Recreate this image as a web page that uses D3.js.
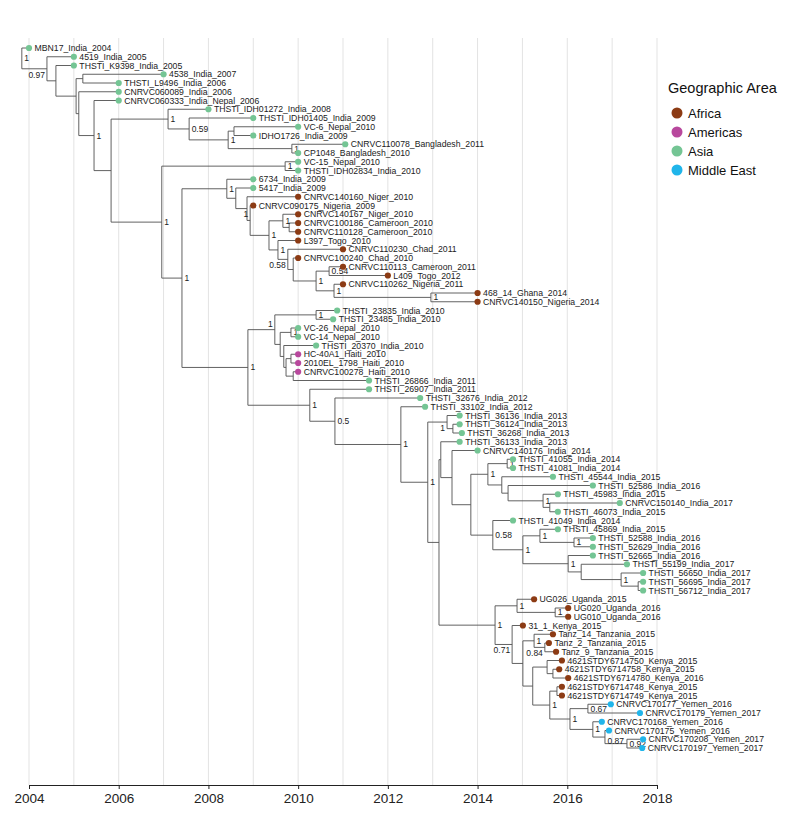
<!DOCTYPE html>
<html><head><meta charset="utf-8">
<script src="https://cdn.jsdelivr.net/npm/d3@7"></script>
<style>body{margin:0;background:#fff;} text{font-family:"Liberation Sans",Arial,Helvetica,sans-serif;}</style>
</head><body><svg id="c" width="800" height="815"></svg>
<script>
// ---- tips (top to bottom) ----
const tipNames = ["MBN17_India_2004","4519_India_2005","THSTI_K9398_India_2005","4538_India_2007","THSTI_L9496_India_2006","CNRVC060089_India_2006","CNRVC060333_India_Nepal_2006","THSTI_IDH01272_India_2008","THSTI_IDH01405_India_2009","VC-6_Nepal_2010","IDHO1726_India_2009","CNRVC110078_Bangladesh_2011","CP1048_Bangladesh_2010","VC-15_Nepal_2010","THSTI_IDH02834_India_2010","6734_India_2009","5417_India_2009","CNRVC140160_Niger_2010","CNRVC090175_Nigeria_2009","CNRVC140167_Niger_2010","CNRVC100186_Cameroon_2010","CNRVC110128_Cameroon_2010","L397_Togo_2010","CNRVC110230_Chad_2011","CNRVC100240_Chad_2010","CNRVC110113_Cameroon_2011","L409_Togo_2012","CNRVC110262_Nigeria_2011","468_14_Ghana_2014","CNRVC140150_Nigeria_2014","THSTI_23835_India_2010","THSTI_23485_India_2010","VC-26_Nepal_2010","VC-14_Nepal_2010","THSTI_20370_India_2010","HC-40A1_Haiti_2010","2010EL_1798_Haiti_2010","CNRVC100278_Haiti_2010","THSTI_26866_India_2011","THSTI_26907_India_2011","THSTI_32676_India_2012","THSTI_33102_India_2012","THSTI_36136_India_2013","THSTI_36124_India_2013","THSTI_36268_India_2013","THSTI_36133_India_2013","CNRVC140176_India_2014","THSTI_41055_India_2014","THSTI_41081_India_2014","THSTI_45544_India_2015","THSTI_52586_India_2016","THSTI_45983_India_2015","CNRVC150140_India_2017","THSTI_46073_India_2015","THSTI_41049_India_2014","THSTI_45869_India_2015","THSTI_52588_India_2016","THSTI_52629_India_2016","THSTI_52665_India_2016","THSTI_55199_India_2017","THSTI_56650_India_2017","THSTI_56695_India_2017","THSTI_56712_India_2017","UG026_Uganda_2015","UG020_Uganda_2016","UG010_Uganda_2016","31_1_Kenya_2015","Tanz_14_Tanzania_2015","Tanz_2_Tanzania_2015","Tanz_9_Tanzania_2015","4621STDY6714750_Kenya_2015","4621STDY6714758_Kenya_2015","4621STDY6714780_Kenya_2016","4621STDY6714748_Kenya_2015","4621STDY6714749_Kenya_2015","CNRVC170177_Yemen_2016","CNRVC170179_Yemen_2017","CNRVC170168_Yemen_2016","CNRVC170175_Yemen_2016","CNRVC170208_Yemen_2017","CNRVC170197_Yemen_2017"];
const tipRegions = ["Asia","Asia","Asia","Asia","Asia","Asia","Asia","Asia","Asia","Asia","Asia","Asia","Asia","Asia","Asia","Asia","Asia",
 "Africa","Africa","Africa","Africa","Africa","Africa","Africa","Africa","Africa","Africa","Africa","Africa","Africa",
 "Asia","Asia","Asia","Asia","Asia","Americas","Americas","Americas",
 "Asia","Asia","Asia","Asia","Asia","Asia","Asia","Asia","Asia","Asia","Asia","Asia","Asia","Asia","Asia","Asia","Asia","Asia","Asia","Asia","Asia","Asia","Asia","Asia","Asia",
 "Africa","Africa","Africa","Africa","Africa","Africa","Africa","Africa","Africa","Africa","Africa","Africa",
 "Middle East","Middle East","Middle East","Middle East","Middle East","Middle East"];
const tipDates = [2004.0,2005.0,2005.0,2007.0,2006.0,2006.0,2006.0,2008.0,2009.0,2010.0,2009.0,2011.05,2010.0,2010.0,2010.0,2009.0,2009.0,
 2010.0,2009.0,2010.0,2010.0,2010.0,2010.0,2011.0,2010.0,2011.0,2012.0,2011.0,2014.0,2014.0,
 2010.87,2010.78,2010.0,2010.0,2010.4,2010.0,2010.0,2010.0,2011.58,2011.58,2012.72,2012.83,
 2013.6,2013.6,2013.65,2013.6,2014.0,2014.79,2014.79,2015.68,2016.57,2015.79,2017.17,2015.79,2014.79,2015.79,2016.57,2016.57,2016.57,2017.33,2017.69,2017.69,2017.69,
 2015.26,2016.02,2016.02,2015.01,2015.68,2015.59,2015.75,2015.88,2015.82,2016.02,2015.88,2015.88,
 2016.97,2017.62,2016.77,2016.93,2017.69,2017.67];
const tipParents = ["R","N1","N2","N4","N4","N5","N6","N8","N10","N12","N12","N13","N13","N14","N14","N16","N16b",
 "N19","N20","N22","N22b","N22b","N23","N24","N25","N27","N27","N28","N29","N29",
 "N32","N32","N34","N34","N35","N37","N37","N38h","N38h","N31","N38","N39",
 "N41","N41b","N41b","N43","N44","N48","N48","N49","N50","N51","N52","N52","N47","N54","N54b","N54b","N55","N56","N57","N57b","N57b",
 "N61","N61b","N61b","N62","N64","N64b","N64b","N66","N66b","N66b","N68","N68",
 "N70","N70","N71","N72","N73","N73"];

// ---- internal nodes ----
const nodeIds     = ["R","N1","N2","N3","N4","N5","N6","N7","N8","N10","N11","N12","N13","N9","N14","N15","N16","N16b","N19","N20","N21","N22","N22b","N23","N24","N25","N26","N27","N28","N29","N17","N30","N32","N33","N34","N35","N36","N37","N38h","N31","N38","N39","N40","N41","N41b","N42","N43","N44","N45","N46","N48","N49","N50","N51","N52","N47","N53","N54","N54b","N55","N56","N57","N57b","N60","N61","N61b","N62","N63","N64","N64b","N65","N66","N66b","N67","N68","N69","N70","N71","N72","N73"];
const nodeParents = [null,"R","N1","N2","N3","N3","N5","N6","N7","N8","N10","N11","N11","N7","N9","N9","N15","N16","N16b","N19","N20","N21","N22","N21","N23","N24","N25","N26","N26","N28","N15","N17","N30","N30","N33","N33","N35","N36","N36","N17","N31","N38","N39","N40","N41","N40","N42","N43","N44","N45","N46","N46","N49","N50","N51","N45","N47","N53","N54","N53","N55","N56","N57","N42","N60","N61","N60","N62","N63","N64","N63","N65","N66","N65","N67","N67","N69","N69","N71","N72"];
const nodeDates   = [2003.84,2004.40,2004.60,2005.05,2005.20,2005.11,2005.45,2005.83,2007.10,2007.57,2008.44,2008.57,2009.86,2006.96,2009.71,2007.41,2008.41,2008.61,2008.86,2008.93,2009.35,2009.66,2009.80,2009.55,2009.77,2009.89,2010.40,2010.69,2010.80,2012.96,2008.88,2009.48,2010.40,2009.60,2009.84,2009.68,2009.73,2009.84,2009.89,2010.26,2010.82,2012.29,2012.89,2013.32,2013.45,2013.14,2013.18,2013.43,2013.85,2014.23,2014.66,2014.54,2014.68,2015.46,2015.61,2014.34,2015.01,2015.39,2016.15,2016.02,2016.31,2017.20,2017.58,2014.39,2014.88,2015.73,2014.77,2015.01,2015.26,2015.50,2015.23,2015.55,2015.68,2015.61,2015.77,2016.06,2016.46,2016.57,2016.84,2017.33];
const nodeSupport = ["1","0.97","","","","","1","","1","0.59","1","","1","1","1","1","1","","","1","1","1","","1","0.58","","1","0.54","1","1","1","1","1","","1","","","","","1","0.5","1","1","1","","","","","","1","1","","","1","","0.58","1","1","1","1","","1","","1","1","1","0.71","","1","0.84","","","","1","","1","0.67","1","0.87","0.92"];

// ---- legend & axis ----
const regionNames  = ["Africa","Americas","Asia","Middle East"];
const regionColors = ["#8c3b14","#b8489d","#74c594","#20b5ea"];
const axisTicks = [2004,2006,2008,2010,2012,2014,2016,2018];
const gridYears = d3.range(2004, 2019);
// label placement hints (repelled labels in the original)
const labelSide = {N1:"bl", N24:"bl", N62:"bl", N41:"bl", N30:"tl", N20:"tl", N64b:"bl", N72:"b"};

const svg = d3.select("#c");
svg.append("rect").attr("width",800).attr("height",815).attr("fill","#fff");

const x = d3.scaleLinear().domain([2004,2018]).range([29,657]);
const y = d3.scaleLinear().domain([0, tipNames.length-1]).range([48,748]);
const color = d3.scaleOrdinal().domain(regionNames).range(regionColors);

// grid
svg.append("g").selectAll("line").data(gridYears).join("line")
  .attr("x1",d=>x(d)).attr("x2",d=>x(d)).attr("y1",38).attr("y2",785)
  .attr("stroke","#e3e3e3").attr("stroke-width",1);

// axis
const axis = svg.append("g").attr("transform","translate(0,785)")
  .call(d3.axisBottom(x).tickValues(axisTicks).tickFormat(d3.format("d")).tickSize(4).tickSizeOuter(0));
axis.select(".domain").attr("stroke","#222").attr("stroke-width",1.2);
axis.selectAll(".tick line").attr("stroke","#222");
axis.selectAll(".tick text").attr("font-size",13.5).attr("fill","#222")
  .attr("font-family","'Liberation Sans',Arial,sans-serif").attr("y",8);

// build tree
const rows = nodeIds.map((id,i)=>({id, parent:nodeParents[i], date:nodeDates[i], support:nodeSupport[i], tip:false}))
  .concat(tipNames.map((n,i)=>({id:"t"+i, parent:tipParents[i], date:tipDates[i], name:n, region:tipRegions[i], idx:i, tip:true})));
const root = d3.stratify().id(d=>d.id).parentId(d=>d.parent)(rows);
root.eachAfter(n=>{
  n.px = x(n.data.date);
  if (n.children) {
    const ys = n.children.map(c=>c.py);
    n.py = (d3.min(ys)+d3.max(ys))/2;
  } else n.py = y(n.data.idx);
});

const g = svg.append("g");
const all = root.descendants();
g.selectAll("path.h").data(all.filter(n=>n.parent)).join("path")
  .attr("d",n=>`M${n.parent.px},${n.py}H${n.px}`)
  .attr("stroke","#505050").attr("stroke-width",0.9).attr("fill","none");
g.selectAll("path.v").data(all.filter(n=>n.children)).join("path")
  .attr("d",n=>{const ys=n.children.map(c=>c.py);return `M${n.px},${d3.min(ys)}V${d3.max(ys)}`;})
  .attr("stroke","#505050").attr("stroke-width",0.9).attr("fill","none");

// support labels
const internals = all.filter(n=>n.children && n.data.support);
const sx = n=>{const s=labelSide[n.data.id]; return (s==="bl"||s==="tl")? n.px-2 : n.px+2.5;};
const sy = n=>{const s=labelSide[n.data.id]; return s==="bl"? n.py+6 : s==="tl"? n.py-6 : s==="b"? n.py+3.5 : n.py;};
g.selectAll("text.s").data(internals).join("text")
  .attr("x",sx).attr("y",sy)
  .attr("text-anchor",n=>{const s=labelSide[n.data.id]; return (s==="bl"||s==="tl")?"end":"start";})
  .attr("dominant-baseline","central")
  .attr("font-size",8.5).attr("fill","#222")
  .text(n=>n.data.support);

// tips
const leaves = root.leaves();
g.selectAll("circle").data(leaves).join("circle")
  .attr("cx",n=>n.px).attr("cy",n=>n.py).attr("r",3.1)
  .attr("fill",n=>color(n.data.region));
g.selectAll("text.t").data(leaves).join("text")
  .attr("x",n=>n.px+5.5).attr("y",n=>n.py)
  .attr("dominant-baseline","central")
  .attr("font-size",8.7).attr("fill","#222")
  .text(n=>n.data.name);

// legend
const lg = svg.append("g");
lg.append("text").attr("x",668).attr("y",93).attr("font-size",14.5).attr("fill","#111").text("Geographic Area");
const items = lg.selectAll("g.it").data(regionNames).join("g")
  .attr("transform",(d,i)=>`translate(0,${113+i*19})`);
items.append("circle").attr("cx",677).attr("cy",0).attr("r",5.5).attr("fill",d=>color(d));
items.append("text").attr("x",688).attr("y",0).attr("dominant-baseline","central")
  .attr("font-size",13).attr("fill","#111").text(d=>d);
</script></body></html>
